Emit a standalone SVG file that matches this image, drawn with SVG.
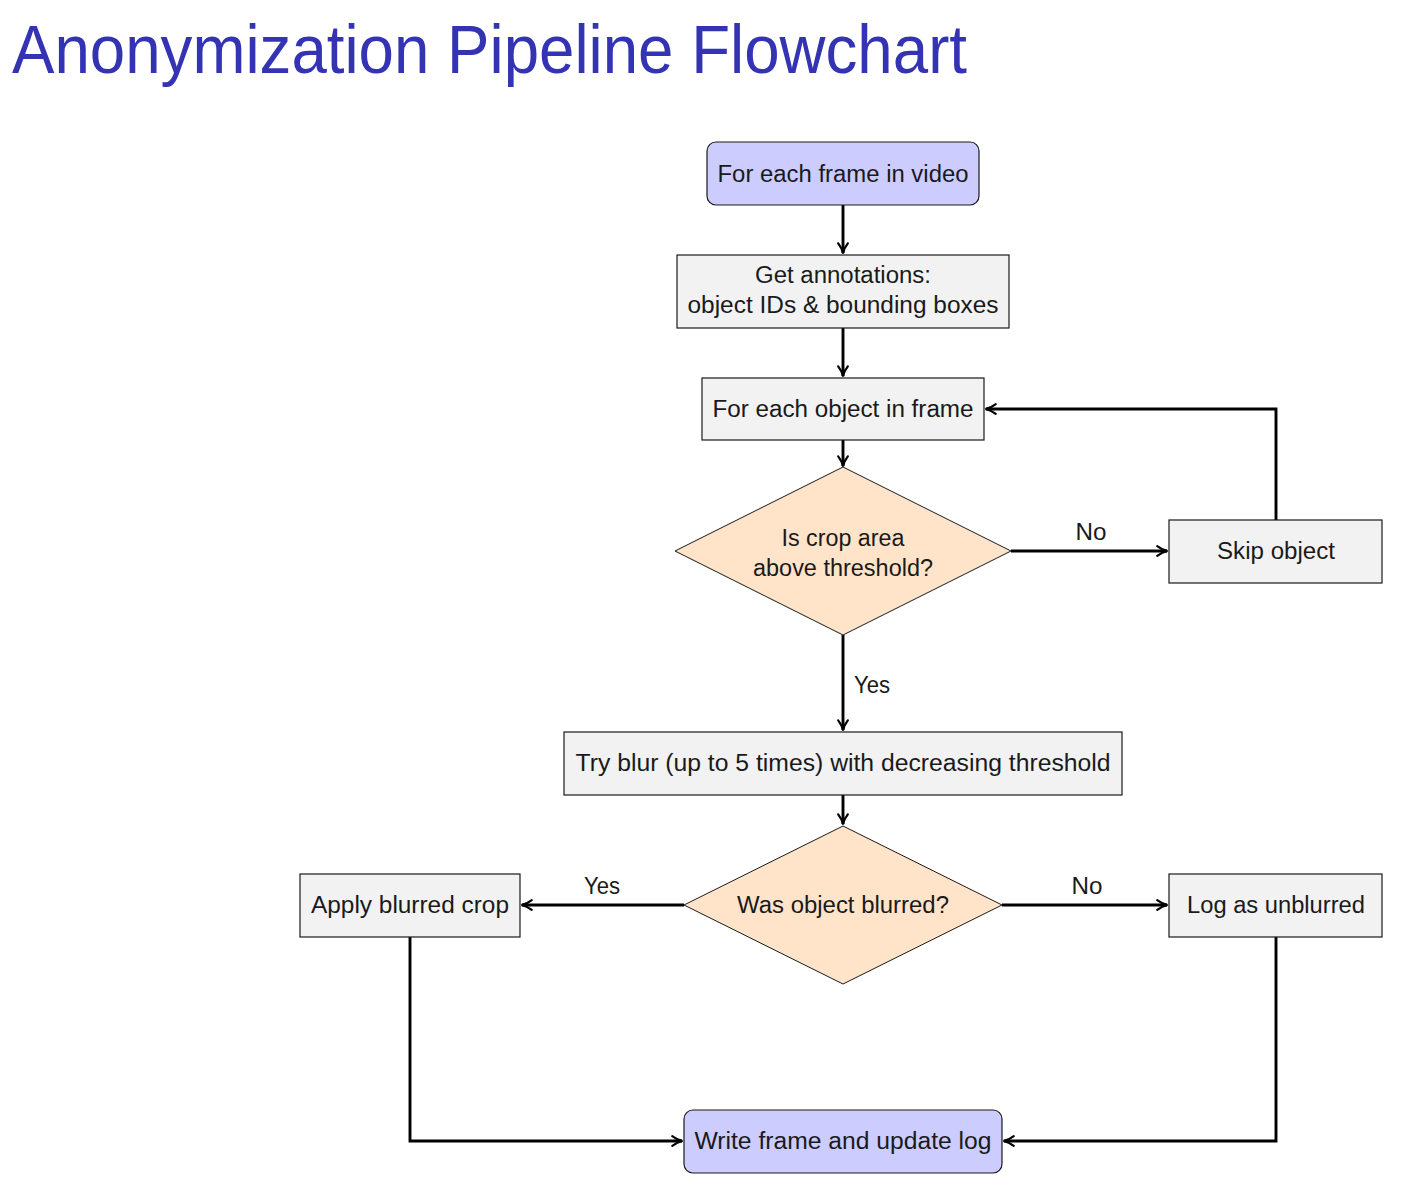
<svg xmlns="http://www.w3.org/2000/svg" width="1402" height="1181" viewBox="0 0 1402 1181">
<defs>
<style>
text{font-family:"Liberation Sans","DejaVu Sans",sans-serif;fill:#1a1a1a;}
.t{font-size:23.5px;text-anchor:middle;}
.title{font-size:68px;fill:#3333b3;}
.box{fill:#f2f2f2;stroke:#1a1a1a;stroke-width:1.2;}
.term{fill:#ccccff;stroke:#1a1a1a;stroke-width:1.2;}
.dec{fill:#ffe4c9;stroke:#1a1a1a;stroke-width:1;}
.c{fill:none;stroke:#000;stroke-width:2.9;marker-end:url(#ah);}
</style>
<marker id="ah" viewBox="0 0 10 10" refX="9" refY="5" markerWidth="4.2" markerHeight="4.2" orient="auto" markerUnits="strokeWidth">
<path d="M1,1 Q5,4.2 9.5,5 Q5,5.8 1,9" fill="none" stroke="#000" stroke-width="1.7" stroke-linecap="round"/>
</marker>
</defs>
<rect width="1402" height="1181" fill="#fff"/>
<text class="title" x="12" y="73" textLength="955" lengthAdjust="spacingAndGlyphs">Anonymization Pipeline Flowchart</text>

<g id="connectors">
<path class="c" d="M843,205 V253"/>
<path class="c" d="M843,328 V376"/>
<path class="c" d="M843,440 V466"/>
<path class="c" d="M1011,551 H1167"/>
<path class="c" d="M1276,520 V409 H986"/>
<path class="c" d="M843,635 V730"/>
<path class="c" d="M843,795 V824"/>
<path class="c" d="M684,905 H522"/>
<path class="c" d="M1002,905 H1167"/>
<path class="c" d="M410,937 V1141 H682"/>
<path class="c" d="M1276,937 V1141 H1004"/>
<text class="t" x="1091" y="540" textLength="31" lengthAdjust="spacingAndGlyphs">No</text>
<text class="t" x="872" y="693" textLength="36" lengthAdjust="spacingAndGlyphs">Yes</text>
<text class="t" x="602" y="894" textLength="36" lengthAdjust="spacingAndGlyphs">Yes</text>
<text class="t" x="1087" y="894" textLength="31" lengthAdjust="spacingAndGlyphs">No</text>
</g>

<g id="n1">
<rect class="term" x="707" y="142" width="272" height="63" rx="9"/>
<text class="t" x="843" y="182" textLength="251" lengthAdjust="spacingAndGlyphs">For each frame in video</text>
</g>
<g id="n2">
<rect class="box" x="677" y="255" width="332" height="73"/>
<text class="t" x="843" y="283" textLength="176" lengthAdjust="spacingAndGlyphs">Get annotations:</text>
<text class="t" x="843" y="313" textLength="311" lengthAdjust="spacingAndGlyphs">object IDs &amp; bounding boxes</text>
</g>
<g id="n3">
<rect class="box" x="702" y="378" width="282" height="62"/>
<text class="t" x="843" y="417" textLength="261" lengthAdjust="spacingAndGlyphs">For each object in frame</text>
</g>
<g id="d1">
<polygon class="dec" points="843,467 1011,551 843,635 675,551"/>
<text class="t" x="843" y="546" textLength="123" lengthAdjust="spacingAndGlyphs">Is crop area</text>
<text class="t" x="843" y="576" textLength="180" lengthAdjust="spacingAndGlyphs">above threshold?</text>
</g>
<g id="skip">
<rect class="box" x="1169" y="520" width="213" height="63"/>
<text class="t" x="1276" y="559" textLength="118" lengthAdjust="spacingAndGlyphs">Skip object</text>
</g>
<g id="try">
<rect class="box" x="564" y="732" width="558" height="63"/>
<text class="t" x="843" y="771" textLength="535" lengthAdjust="spacingAndGlyphs">Try blur (up to 5 times) with decreasing threshold</text>
</g>
<g id="d2">
<polygon class="dec" points="843,826 1002,905 843,984 684,905"/>
<text class="t" x="843" y="913" textLength="212" lengthAdjust="spacingAndGlyphs">Was object blurred?</text>
</g>
<g id="apply">
<rect class="box" x="300" y="874" width="220" height="63"/>
<text class="t" x="410" y="913" textLength="198" lengthAdjust="spacingAndGlyphs">Apply blurred crop</text>
</g>
<g id="logun">
<rect class="box" x="1169" y="874" width="213" height="63"/>
<text class="t" x="1276" y="913" textLength="178" lengthAdjust="spacingAndGlyphs">Log as unblurred</text>
</g>
<g id="write">
<rect class="term" x="684" y="1110" width="318" height="63" rx="9"/>
<text class="t" x="843" y="1149" textLength="297" lengthAdjust="spacingAndGlyphs">Write frame and update log</text>
</g>
</svg>
